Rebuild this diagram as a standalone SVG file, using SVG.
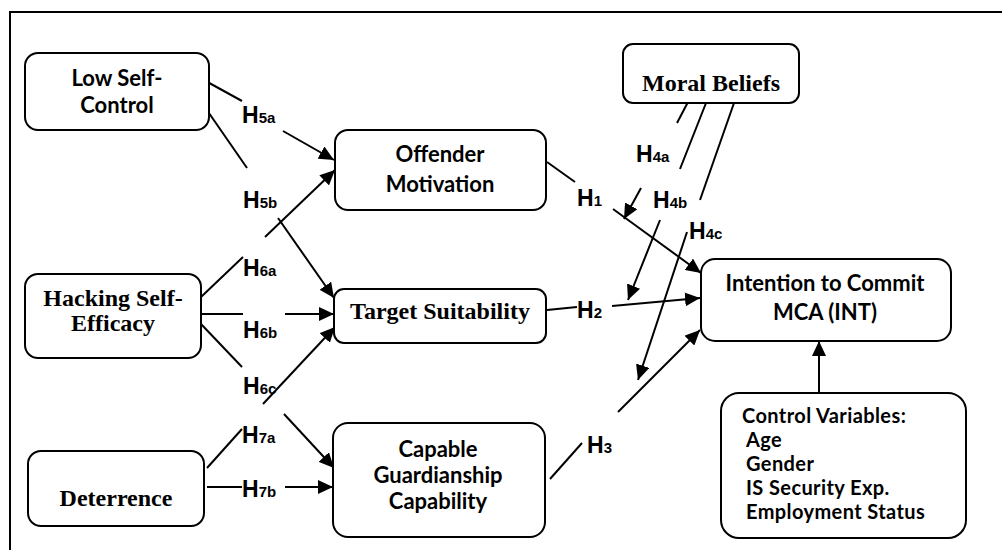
<svg xmlns="http://www.w3.org/2000/svg" width="1002" height="550" viewBox="0 0 1002 550">
<style>
.box{fill:#fff;stroke:#000;stroke-width:2}
.c{stroke:#000;stroke-width:2;fill:none}
.cal{font-family:Lato,"Open Sans",sans-serif;font-weight:bold;font-size:22px;fill:#000}
.cv{font-size:20px;letter-spacing:0.4px}
.tim{font-family:"Liberation Serif","Times New Roman",serif;font-weight:bold;font-size:24px;fill:#000}
.lab{font-family:"Liberation Sans",Arial,sans-serif;font-weight:bold;font-size:23px;fill:#000}
.sub{font-size:15px}
</style>
<defs>
<marker id="ah" markerUnits="userSpaceOnUse" markerWidth="16" markerHeight="14" refX="15" refY="7" orient="auto"><path d="M0,0 L15,7 L0,14 Z" fill="#000"/></marker>
</defs>
<rect x="10" y="12" width="1000" height="550" fill="#fff" stroke="#000" stroke-width="2"/>
<g id="connectors">
<g id="h5a"><line class="c" x1="202" y1="79" x2="242" y2="101"/><line class="c" x1="283" y1="131" x2="334" y2="160" marker-end="url(#ah)"/></g>
<g id="h5b"><line class="c" x1="202" y1="103" x2="247" y2="168"/><line class="c" x1="278" y1="218" x2="334" y2="298" marker-end="url(#ah)"/></g>
<g id="h6a"><line class="c" x1="201" y1="297" x2="243" y2="257"/><line class="c" x1="265" y1="237" x2="335" y2="170" marker-end="url(#ah)"/></g>
<g id="h6b"><line class="c" x1="201" y1="314" x2="243" y2="314"/><line class="c" x1="285" y1="314" x2="334" y2="314" marker-end="url(#ah)"/></g>
<g id="h6c"><line class="c" x1="201" y1="324" x2="242" y2="367"/><line class="c" x1="284" y1="414" x2="334" y2="468" marker-end="url(#ah)"/></g>
<g id="h7a"><line class="c" x1="207" y1="468" x2="242" y2="429"/><line class="c" x1="263" y1="404" x2="335" y2="327" marker-end="url(#ah)"/></g>
<g id="h7b"><line class="c" x1="207" y1="487" x2="242" y2="487"/><line class="c" x1="285" y1="487" x2="333" y2="487" marker-end="url(#ah)"/></g>
<g id="h1"><line class="c" x1="547" y1="162" x2="575" y2="182"/><line class="c" x1="613" y1="209" x2="701" y2="273" marker-end="url(#ah)"/></g>
<g id="h2"><line class="c" x1="547" y1="310" x2="577" y2="307"/><line class="c" x1="612" y1="306" x2="700" y2="298" marker-end="url(#ah)"/></g>
<g id="h3"><line class="c" x1="550" y1="479" x2="582" y2="443"/><line class="c" x1="618" y1="412" x2="700" y2="330" marker-end="url(#ah)"/></g>
<g id="h4a"><line class="c" x1="688" y1="102" x2="677" y2="123"/><line class="c" x1="641" y1="188" x2="624" y2="219" marker-end="url(#ah)"/></g>
<g id="h4b"><line class="c" x1="706" y1="103" x2="680" y2="169"/><line class="c" x1="660" y1="220" x2="628" y2="300" marker-end="url(#ah)"/></g>
<g id="h4c"><line class="c" x1="734" y1="103" x2="700" y2="200"/><line class="c" x1="687" y1="232" x2="638" y2="380" marker-end="url(#ah)"/></g>
<g id="ctrl-int"><line class="c" x1="819" y1="393" x2="819" y2="341" marker-end="url(#ah)"/></g>
<g id="labels">
<text class="lab" x="242" y="123">H<tspan class="sub">5a</tspan></text>
<text class="lab" x="243" y="208">H<tspan class="sub">5b</tspan></text>
<text class="lab" x="243" y="276">H<tspan class="sub">6a</tspan></text>
<text class="lab" x="243" y="338">H<tspan class="sub">6b</tspan></text>
<text class="lab" x="243" y="394">H<tspan class="sub">6c</tspan></text>
<text class="lab" x="242" y="443">H<tspan class="sub">7a</tspan></text>
<text class="lab" x="242" y="497">H<tspan class="sub">7b</tspan></text>
<text class="lab" x="577" y="206">H<tspan class="sub">1</tspan></text>
<text class="lab" x="577" y="318">H<tspan class="sub">2</tspan></text>
<text class="lab" x="587" y="453">H<tspan class="sub">3</tspan></text>
<text class="lab" x="636" y="162">H<tspan class="sub">4a</tspan></text>
<text class="lab" x="653" y="208">H<tspan class="sub">4b</tspan></text>
<text class="lab" x="689" y="239">H<tspan class="sub">4c</tspan></text>
</g>
</g>
<g id="low-self-control"><rect class="box" x="25" y="53" width="184" height="77" rx="13"/><text class="cal" text-anchor="middle" x="117" y="86">Low Self-</text><text class="cal" text-anchor="middle" x="117" y="113">Control</text></g>
<g id="hacking-self-efficacy"><rect class="box" x="25" y="274" width="176" height="84" rx="13"/><text class="tim" text-anchor="middle" x="113" y="306">Hacking Self-</text><text class="tim" text-anchor="middle" x="113" y="331">Efficacy</text></g>
<g id="deterrence"><rect class="box" x="28" y="451" width="176" height="75" rx="13"/><text class="tim" text-anchor="middle" x="116" y="506">Deterrence</text></g>
<g id="offender-motivation"><rect class="box" x="335" y="130" width="211" height="80" rx="13"/><text class="cal" text-anchor="middle" x="440" y="162">Offender</text><text class="cal" text-anchor="middle" x="440" y="192">Motivation</text></g>
<g id="target-suitability"><rect class="box" x="334" y="289" width="212" height="54" rx="10"/><text class="tim" text-anchor="middle" x="440" y="319">Target Suitability</text></g>
<g id="capable-guardianship"><rect class="box" x="333" y="423" width="212" height="114" rx="15"/><text class="cal" text-anchor="middle" x="438" y="457">Capable</text><text class="cal" text-anchor="middle" x="438" y="483">Guardianship</text><text class="cal" text-anchor="middle" x="438" y="509">Capability</text></g>
<g id="moral-beliefs"><rect class="box" x="623" y="44" width="176" height="59" rx="10"/><text class="tim" text-anchor="middle" x="711" y="91">Moral Beliefs</text></g>
<g id="intention"><rect class="box" x="701" y="259" width="250" height="82" rx="14"/><text class="cal" text-anchor="middle" x="825" y="291">Intention to Commit</text><text class="cal" text-anchor="middle" x="825" y="320">MCA (INT)</text></g>
<g id="control-variables"><rect class="box" x="721" y="393" width="245" height="145" rx="18"/><text class="cal cv" x="742" y="423">Control Variables:</text><text class="cal cv" x="746" y="447">Age</text><text class="cal cv" x="746" y="471">Gender</text><text class="cal cv" x="746" y="495">IS Security Exp.</text><text class="cal cv" x="746" y="519">Employment Status</text></g>
</svg>
